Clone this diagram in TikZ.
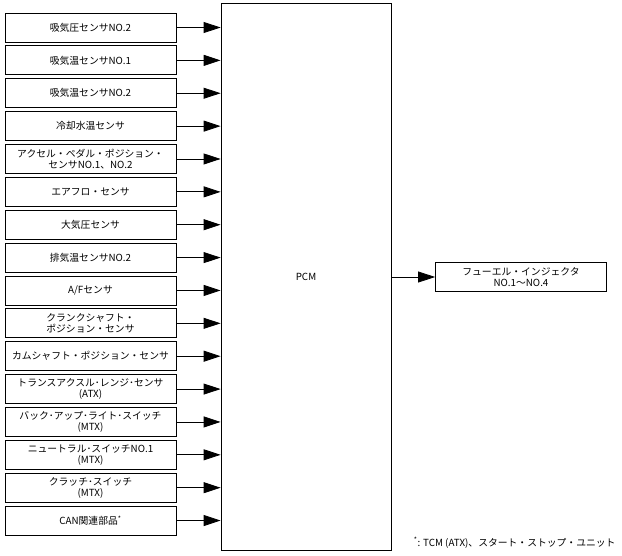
\documentclass[tikz,border=0pt]{standalone}
\usepackage{fontspec}
\setmainfont{Noto Sans CJK JP}
\usetikzlibrary{arrows.meta}
\begin{document}
\begin{tikzpicture}[x=1pt,y=-1pt,
    sensor/.style={draw,line width=0.8pt,minimum width=171pt,minimum height=29pt,
      inner sep=1pt,align=center,font=\fontsize{9.8}{11}\selectfont},
    arr/.style={line width=0.8pt,-{Triangle[length=17pt,width=11pt]}}]
  \useasboundingbox (0,0) rectangle (622,555);
  \node[draw,line width=0.8pt,minimum width=170pt,minimum height=547pt,
    font=\fontsize{9.8}{11}\selectfont] (pcm) at (306,276.5) {PCM};
  \foreach \i/\t in {1/{吸気圧センサNO.2},2/{吸気温センサNO.1},3/{吸気温センサNO.2},
      4/{冷却水温センサ},5/{アクセル・ペダル・ポジション・\\センサNO.1、NO.2},
      6/{エアフロ・センサ},7/{大気圧センサ},8/{排気温センサNO.2},9/{A/Fセンサ},
      10/{クランクシャフト・\\ポジション・センサ},11/{カムシャフト・ポジション・センサ},
      12/{トランスアクスル･レンジ･センサ\\(ATX)},13/{バック･アップ･ライト･スイッチ\\(MTX)},
      14/{ニュートラル･スイッチNO.1\\(MTX)},15/{クラッチ･スイッチ\\(MTX)},
      16/{CAN関連部品\textsuperscript{*}}} {%
    \node[sensor] (s\i) at (90.5,{27.5+(\i-1)*32.87}) {\t};
    \draw[arr] (s\i.east) -- (s\i.east -| pcm.west);
  }
  \node[sensor] (inj) at (521,277) {フューエル・インジェクタ\\NO.1〜NO.4};
  \draw[arr] (inj.west -| pcm.east) -- (inj.west);
  \node[anchor=east,font=\fontsize{9.8}{11}\selectfont] (note) at (619,543)
    {\textsuperscript{*}: TCM (ATX)、スタート・ストップ・ユニット};
\end{tikzpicture}
\end{document}
